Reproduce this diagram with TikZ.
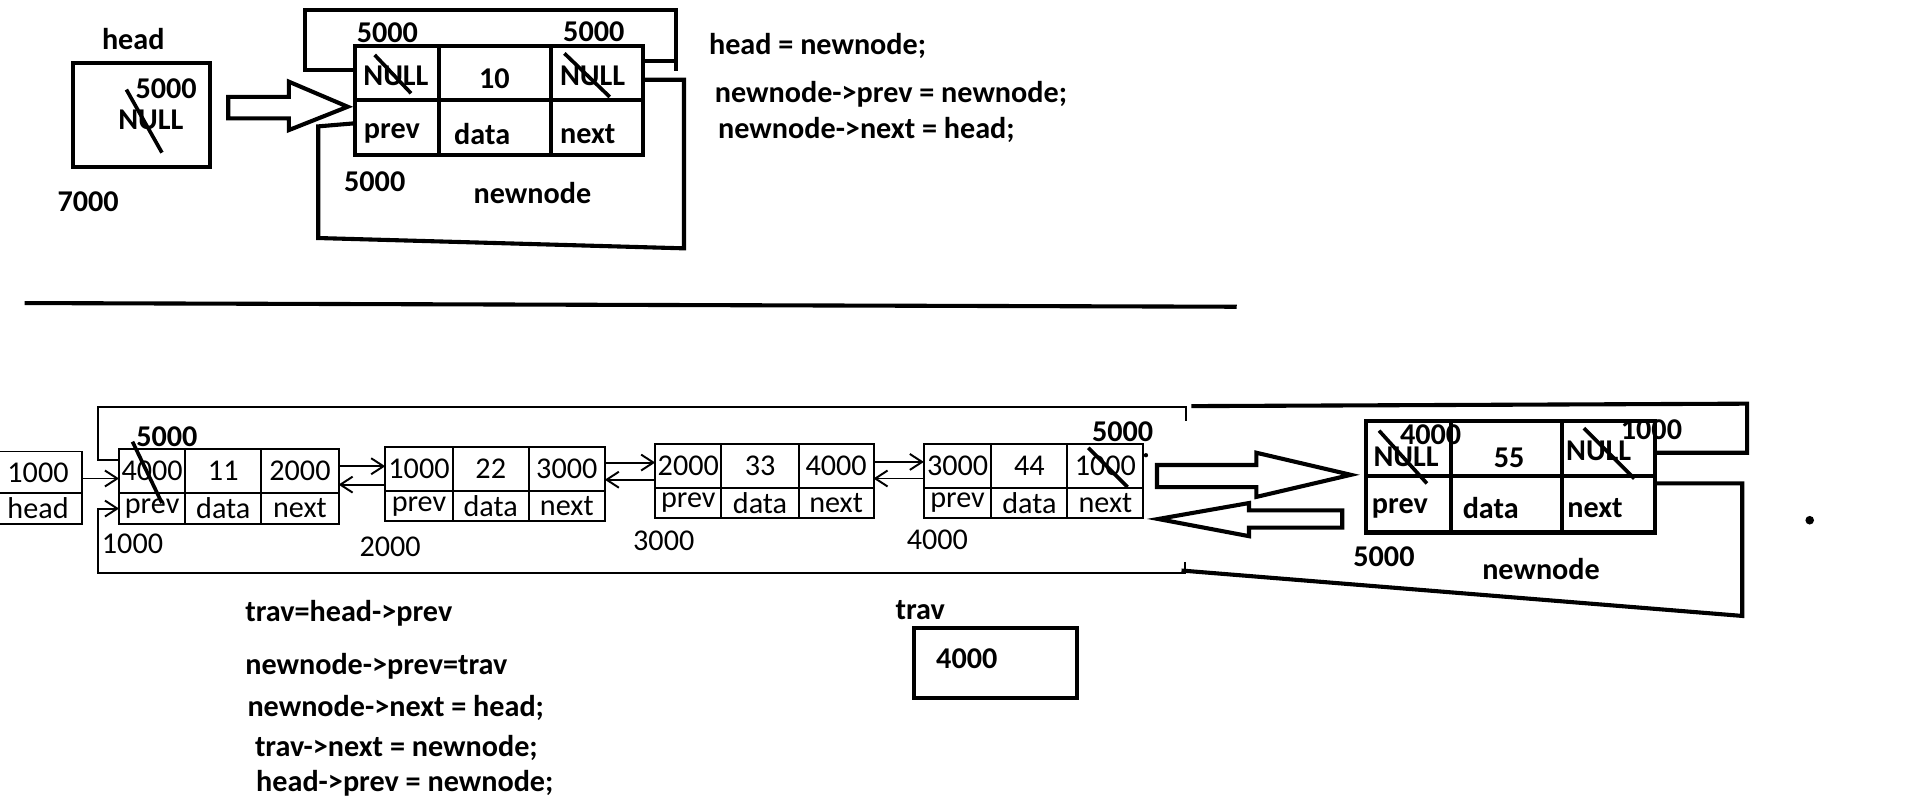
\documentclass[tikz,border=0pt]{standalone}
\usepackage{fontspec}
\setmainfont{Carlito}
\usetikzlibrary{arrows.meta}
\tikzset{
  heavy/.style={line width=1.9pt},
  light/.style={line width=0.9pt},
  bigcell/.style={draw, heavy, inner sep=0pt, outer sep=0pt, anchor=north west},
  cell/.style={draw, light, inner sep=0pt, outer sep=0pt, anchor=north west, font=\fontsize{14}{16}\selectfont},
  lbl/.style={inner sep=0pt, font=\fontsize{14}{16}\selectfont\bfseries},
  plain/.style={inner sep=0pt, font=\fontsize{14}{16}\selectfont},
  code/.style={lbl, anchor=west},
  link/.style={light, -{Straight Barb[length=2mm, width=2.6mm]}},
  slash/.style={line width=1.7pt},
  blockarrow/.style={heavy, line join=miter},
}
\begin{document}
  \begin{tikzpicture}[x=0.02cm, y=-0.02cm]
    \useasboundingbox (0,0) rectangle (1560,659.4);
    \node[lbl] (headlbl) at (108.6,32) {head};
    \draw[heavy] (59.6,51.6) rectangle (171,136);
    \node[lbl] (headold) at (123,98) {NULL};
    \node[lbl] (headnew) at (135.4,72) {5000};
    \draw[slash] (103,73) -- (132,124.4);
    \node[lbl] (headaddr) at (71.8,164) {7000};
    \draw[blockarrow] (186,79) -- (235.5,79) -- (235.5,66.6) -- (283.4,87) -- (235.5,106) -- (235.5,96.5) -- (186,96.5) -- cycle;
    \node[bigcell, minimum width=1.37cm, minimum height=0.88cm] (tprevval) at (289,37.5) {};
    \node[bigcell, minimum width=1.83cm, minimum height=0.88cm] (tdataval) at (tprevval.north east) {};
    \node[bigcell, minimum width=1.5cm, minimum height=0.88cm] (tnextval) at (tdataval.north east) {};
    \node[bigcell, minimum width=1.37cm, minimum height=0.9cm] (tprev) at (tprevval.south west) {};
    \node[bigcell, minimum width=1.83cm, minimum height=0.9cm] (tdata) at (tprev.north east) {};
    \node[bigcell, minimum width=1.5cm, minimum height=0.9cm] (tnext) at (tdata.north east) {};
    \node[lbl] (tnull1) at (322.7,62) {NULL};
    \draw[slash] (305.4,44.8) -- (335,76);
    \node[lbl] (tten) at (403,64) {10};
    \node[lbl] (tnull2) at (483,62) {NULL};
    \draw[slash] (460,43.5) -- (497,79);
    \node[lbl] (tprevtxt) at (319.4,109) {prev};
    \node[lbl] (tdatatxt) at (393,109) {data};
    \node[lbl] (tnexttxt) at (479,109) {next};
    \node[lbl] (tprevnew) at (315.7,27) {5000};
    \node[lbl] (tnextnew) at (484,26) {5000};
    \node[lbl] (taddr) at (305.4,148) {5000};
    \node[lbl] (tname) at (434,157.6) {newnode};
    \draw[heavy] (tprevval.west |- 0,57) -| (248.4,8) -| (551,58);
    \draw[heavy] (tnextval.east |- 0,50) -- (551,50);
    \draw[heavy] (tprev.west |- 0,100.5) -- (259.4,103) -- (259.4,194) -- (557.5,202.4) -- (557.5,65) -- (tnextval.east |- 0,65);
    \node[code] (c1) at (577.6,37.5) {head = newnode;};
    \node[code] (c2) at (582.3,76.6) {newnode->prev = newnode;};
    \node[code] (c3) at (585,106) {newnode->next = head;};
    \draw[heavy] (20,247) -- (1008,250);
    \node[cell, minimum width=1.44cm, minimum height=0.68cm] (hval) at (-5,368) {1000};
    \node[cell, minimum width=1.44cm, minimum height=0.5cm] (hname) at (hval.south west) {head};
    \node[cell, minimum width=1.08cm, minimum height=0.72cm] (a1prev) at (97,366) {4000};
    \node[cell, minimum width=1.24cm, minimum height=0.72cm] (a1data) at (a1prev.north east) {11};
    \node[cell, minimum width=1.26cm, minimum height=0.72cm] (a1next) at (a1data.north east) {2000};
    \node[cell, minimum width=1.08cm, minimum height=0.5cm] (a1p) at (a1prev.south west) {prev};
    \node[cell, minimum width=1.24cm, minimum height=0.5cm] (a1d) at (a1p.north east) {data};
    \node[cell, minimum width=1.26cm, minimum height=0.5cm] (a1n) at (a1d.north east) {next};
    \node[cell, minimum width=1.1cm, minimum height=0.72cm] (a2prev) at (314,364) {1000};
    \node[cell, minimum width=1.24cm, minimum height=0.72cm] (a2data) at (a2prev.north east) {22};
    \node[cell, minimum width=1.24cm, minimum height=0.72cm] (a2next) at (a2data.north east) {3000};
    \node[cell, minimum width=1.1cm, minimum height=0.5cm] (a2p) at (a2prev.south west) {prev};
    \node[cell, minimum width=1.24cm, minimum height=0.5cm] (a2d) at (a2p.north east) {data};
    \node[cell, minimum width=1.24cm, minimum height=0.5cm] (a2n) at (a2d.north east) {next};
    \node[cell, minimum width=1.08cm, minimum height=0.72cm] (a3prev) at (534,362) {2000};
    \node[cell, minimum width=1.26cm, minimum height=0.72cm] (a3data) at (a3prev.north east) {33};
    \node[cell, minimum width=1.22cm, minimum height=0.72cm] (a3next) at (a3data.north east) {4000};
    \node[cell, minimum width=1.08cm, minimum height=0.48cm] (a3p) at (a3prev.south west) {prev};
    \node[cell, minimum width=1.26cm, minimum height=0.48cm] (a3d) at (a3p.north east) {data};
    \node[cell, minimum width=1.22cm, minimum height=0.48cm] (a3n) at (a3d.north east) {next};
    \node[cell, minimum width=1.1cm, minimum height=0.72cm] (a4prev) at (753,362) {3000};
    \node[cell, minimum width=1.24cm, minimum height=0.72cm] (a4data) at (a4prev.north east) {44};
    \node[cell, minimum width=1.24cm, minimum height=0.72cm] (a4next) at (a4data.north east) {1000};
    \node[cell, minimum width=1.1cm, minimum height=0.48cm] (a4p) at (a4prev.south west) {prev};
    \node[cell, minimum width=1.24cm, minimum height=0.48cm] (a4d) at (a4p.north east) {data};
    \node[cell, minimum width=1.24cm, minimum height=0.48cm] (a4n) at (a4d.north east) {next};
    \node[plain] (a1addr) at (108,443) {1000};
    \node[plain] (a2addr) at (318,446) {2000};
    \node[plain] (a3addr) at (541,441) {3000};
    \node[plain] (a4addr) at (764,440) {4000};
    \node[lbl] (a1new) at (136,356) {5000};
    \draw[slash] (108,360) -- (132,410);
    \node[lbl] (a4new) at (915,352) {5000};
    \draw[slash] (887,365) -- (919,397);
    \draw[link] ([yshift=-0.1cm]hval.east) -- ([yshift=-0.1cm]hval.east -| a1prev.west);
    \draw[link] ([yshift=0.08cm]a1next.east) -- ([yshift=0.08cm]a1next.east -| a2prev.west);
    \draw[link] ([yshift=-0.22cm]a1next.east -| a2prev.west) -- ([yshift=-0.22cm]a1next.east);
    \draw[link] ([yshift=0.1cm]a2next.east) -- ([yshift=0.1cm]a2next.east -| a3prev.west);
    \draw[link] ([yshift=-0.18cm]a2next.east -| a3prev.west) -- ([yshift=-0.18cm]a2next.east);
    \draw[link] ([yshift=0.07cm]a3next.east) -- ([yshift=0.07cm]a3next.east -| a4prev.west);
    \draw[link] ([yshift=-0.2cm]a3next.east -| a4prev.west) -- ([yshift=-0.2cm]a3next.east);
    \coordinate (oldtop) at (967,343);
    \coordinate (oldbot) at (966,458);
    \draw[light] ([yshift=0.18cm]a1prev.west) -| (80,332) -| (oldtop);
    \draw[link] (oldbot) |- (80,467) |- (a1p.west);
    \fill (934,371) circle[radius=1pt];
    \draw[blockarrow] (943,379) -- (1024,379) -- (1024,369) -- (1101,387) -- (1024,405) -- (1024,397) -- (943,397) -- cycle;
    \draw[blockarrow] (944,423) -- (1018,410) -- (1018,416) -- (1094,416) -- (1094,430) -- (1018,430) -- (1018,437) -- cycle;
    \node[bigcell, minimum width=1.4cm, minimum height=0.9cm] (bprevval) at (1113,343) {};
    \node[bigcell, minimum width=1.8cm, minimum height=0.9cm] (bdataval) at (bprevval.north east) {};
    \node[bigcell, minimum width=1.52cm, minimum height=0.9cm] (bnextval) at (bdataval.north east) {};
    \node[bigcell, minimum width=1.4cm, minimum height=0.92cm] (bprev) at (bprevval.south west) {};
    \node[bigcell, minimum width=1.8cm, minimum height=0.92cm] (bdata) at (bprev.north east) {};
    \node[bigcell, minimum width=1.52cm, minimum height=0.92cm] (bnext) at (bdata.north east) {};
    \node[lbl] (bnull1) at (1146,372) {NULL};
    \node[lbl] (bprevnew) at (1166,354.5) {4000};
    \draw[slash] (1124,351) -- (1163,394);
    \node[lbl] (bfifty) at (1230,373.5) {55};
    \node[lbl] (bnull2) at (1303,367.5) {NULL};
    \draw[slash] (1291,349) -- (1332,390);
    \node[lbl] (bnextnew) at (1346,350) {1000};
    \node[lbl] (bprevtxt) at (1141,414) {prev};
    \node[lbl] (bdatatxt) at (1215,414) {data};
    \node[lbl] (bnexttxt) at (1300,414) {next};
    \node[lbl] (baddr) at (1128,453.6) {5000};
    \node[lbl] (bname) at (1256,464) {newnode};
    \draw[heavy] (bnextval.east |- 0,369) -- (1424,369) -- (1424,329) -- (971,331);
    \draw[heavy] (bnext.east |- 0,394) -- (1420,394) -- (1420,502) -- (963,465);
    \fill (1475,424) circle[radius=2pt];
    \node[code] (c4) at (199.6,500) {trav=head->prev};
    \node[code] (c5) at (199.6,543.3) {newnode->prev=trav};
    \node[code] (c6) at (201.4,576.8) {newnode->next = head;};
    \node[code] (c7) at (207.5,610) {trav->next = newnode;};
    \node[code] (c8) at (208.5,638.5) {head->prev = newnode;};
    \node[lbl] (travlbl) at (750,497) {trav};
    \draw[heavy] (745,512) rectangle (878,569);
    \node[lbl] (travval) at (788,537) {4000};
  \end{tikzpicture}
\end{document}
